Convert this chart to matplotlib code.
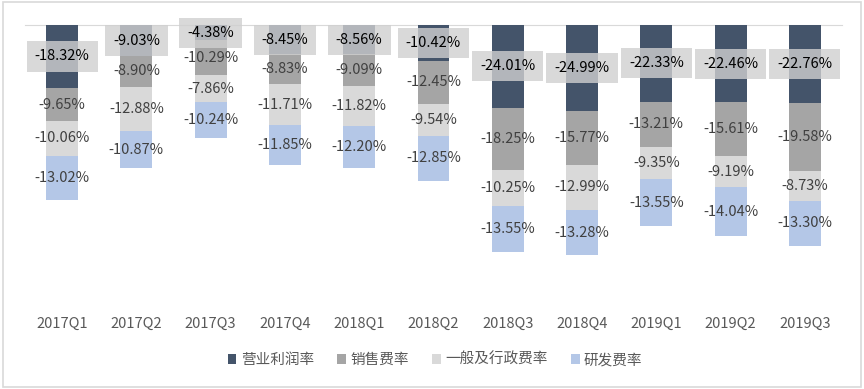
import numpy as np
import matplotlib.pyplot as plt
from matplotlib.patches import Rectangle

plt.rcParams['font.family'] = ['Noto Sans CJK SC', 'DejaVu Sans']

quarters = ['2017Q1', '2017Q2', '2017Q3', '2017Q4', '2018Q1', '2018Q2',
            '2018Q3', '2018Q4', '2019Q1', '2019Q2', '2019Q3']
op_margin = [-18.32, -9.03, -4.38, -8.45, -8.56, -10.42, -24.01, -24.99, -22.33, -22.46, -22.76]
sales_rate = [-9.65, -8.90, -10.29, -8.83, -9.09, -12.45, -18.25, -15.77, -13.21, -15.61, -19.58]
admin_rate = [-10.06, -12.88, -7.86, -11.71, -11.82, -9.54, -10.25, -12.99, -9.35, -9.19, -8.73]
rd_rate = [-13.02, -10.87, -10.24, -11.85, -12.20, -12.85, -13.55, -13.28, -13.55, -14.04, -13.30]

series = [('营业利润率', op_margin, '#44546a'),
          ('销售费率', sales_rate, '#a5a5a5'),
          ('一般及行政费率', admin_rate, '#d9d9d9'),
          ('研发费率', rd_rate, '#b4c7e7')]

fig = plt.figure(figsize=(8.64, 3.89), dpi=100)
ax = fig.add_axes([25 / 864, 1 - 300 / 389, 817 / 864, 275 / 389])

x = np.arange(len(quarters))
bottom = np.zeros(len(quarters))
for i, (name, vals, color) in enumerate(series):
    vals = np.array(vals)
    ax.bar(x, vals, 0.43, bottom=bottom, color=color, label=name, zorder=2)
    for xi, b, v in zip(x, bottom, vals):
        yc = b + v / 2
        txt = f'{v:.2f}%'
        if i == 0:
            ax.text(xi, yc, txt, ha='center', va='center', fontsize=10.5,
                    color='#000000', zorder=4,
                    bbox=dict(boxstyle='square,pad=0.55', fc='#d0d0d0',
                              ec='none', alpha=0.8))
        else:
            ax.text(xi, yc, txt, ha='center', va='center', fontsize=10.5,
                    color='#404040', zorder=3)
    bottom = bottom + vals

ax.set_xlim(-0.5, len(quarters) - 0.5)
ax.set_ylim(-80, 0)
ax.set_yticks([])
ax.set_xticks(x)
ax.set_xticklabels(quarters, fontsize=10.5, color='#595959')
ax.tick_params(axis='x', length=0, pad=12)
for s in ['left', 'right', 'bottom']:
    ax.spines[s].set_visible(False)
ax.spines['top'].set_color('#d9d9d9')
ax.spines['top'].set_zorder(1)

ax.legend(loc='center', bbox_to_anchor=(435 / 864, 1 - 360 / 389),
          bbox_transform=fig.transFigure, ncol=4, frameon=False,
          fontsize=10.5, handlelength=0.6, handleheight=0.6,
          handletextpad=0.3, columnspacing=1.6, labelcolor='#595959')

fig.patches.append(Rectangle((0.004, 0.006), 0.992, 0.988, transform=fig.transFigure,
                             fill=False, ec='#d9d9d9', lw=1.2))

fig.savefig('out.png', dpi=100)
